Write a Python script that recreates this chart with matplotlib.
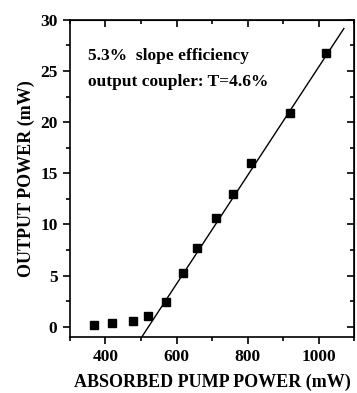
import matplotlib
matplotlib.use('Agg')
import matplotlib.pyplot as plt
from matplotlib.ticker import MultipleLocator
import numpy as np

pump = [368, 419, 478, 519, 570, 619, 659, 710, 760, 810, 920, 1020]
output = [0.13, 0.32, 0.58, 1.04, 2.45, 5.26, 7.7, 10.6, 12.95, 16.0, 20.9, 26.8]

# linear fit line (5.3% slope)
slope = 0.053
x_thr = 521
fit_x = np.array([502, 1071])
fit_y = slope * (fit_x - x_thr)

plt.rcParams['font.family'] = 'Liberation Serif'
plt.rcParams['font.weight'] = 'bold'

fig = plt.figure(figsize=(3.57, 3.93), dpi=100)
ax = fig.add_axes([0.196, 0.1425, 0.796, 0.807])

ax.plot(pump, output, 's', color='black', markersize=5.5)
ax.plot(fit_x, fit_y, '-', color='black', linewidth=1.0)

ax.set_xlim(300, 1100)
ax.set_ylim(-1, 30)
ax.xaxis.set_major_locator(MultipleLocator(200))
ax.xaxis.set_minor_locator(MultipleLocator(100))
ax.yaxis.set_major_locator(MultipleLocator(5))
ax.yaxis.set_minor_locator(MultipleLocator(2.5))
ax.tick_params(which='both', direction='out', width=1.2, labelsize=12.5, pad=4,
               top=False, right=False)
ax.tick_params(which='major', length=5)
ax.tick_params(which='minor', length=3)
for lbl in ax.get_xticklabels() + ax.get_yticklabels():
    lbl.set_fontweight('bold')
for s in ax.spines.values():
    s.set_linewidth(1.2)

# inward ticks on top and right
ax2 = ax.secondary_xaxis('top')
ax2.xaxis.set_major_locator(MultipleLocator(200))
ax2.xaxis.set_minor_locator(MultipleLocator(100))
ax2.tick_params(which='both', direction='in', width=1.2, labeltop=False)
ax2.tick_params(which='major', length=5)
ax2.tick_params(which='minor', length=3)
ax2.set_xticklabels([])
ax3 = ax.secondary_yaxis('right')
ax3.yaxis.set_major_locator(MultipleLocator(5))
ax3.yaxis.set_minor_locator(MultipleLocator(2.5))
ax3.tick_params(which='both', direction='in', width=1.2, labelright=False)
ax3.tick_params(which='major', length=5)
ax3.tick_params(which='minor', length=3)
ax3.set_yticklabels([])

ax.set_xlabel('ABSORBED PUMP POWER (mW)', fontsize=13, fontweight='bold', labelpad=6)
ax.set_ylabel('OUTPUT POWER (mW)', fontsize=13, fontweight='bold', labelpad=4)

ax.text(0.065, 0.885, '5.3%  slope efficiency', transform=ax.transAxes,
        fontsize=12.5, fontweight='bold', va='center')
ax.text(0.065, 0.805, 'output coupler: T=4.6%', transform=ax.transAxes,
        fontsize=12.5, fontweight='bold', va='center')

fig.savefig('out.png', dpi=100)
